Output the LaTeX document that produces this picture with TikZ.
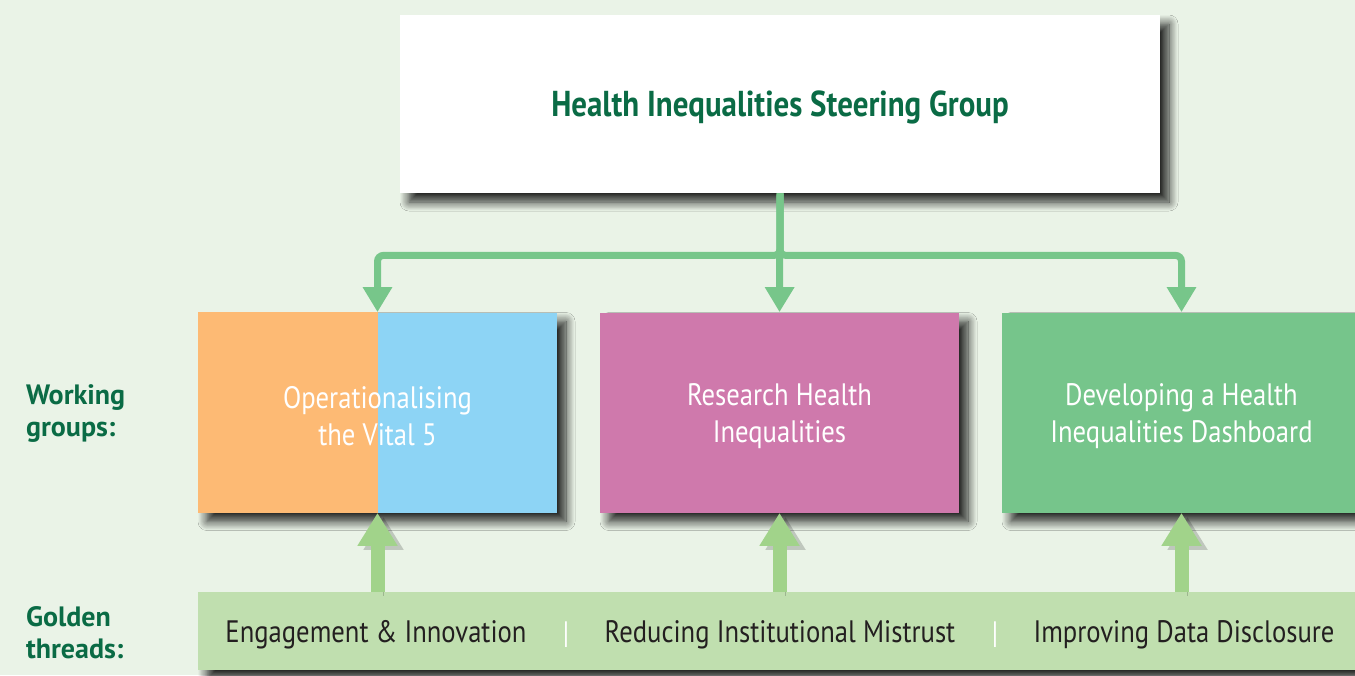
\documentclass[tikz,border=0pt]{standalone}
\usepackage{fontspec}
\setmainfont{PT Sans}[FakeStretch=0.86]
\newfontfamily\labelfont{PT Sans}
\usetikzlibrary{arrows.meta,shadows.blur}

\definecolor{paper}{HTML}{EAF3E7}
\definecolor{nhsgreen}{HTML}{0A6B45}
\definecolor{flowgreen}{HTML}{77C68A}
\definecolor{liftgreen}{HTML}{A1D38A}
\definecolor{threadgreen}{HTML}{C0DFAF}
\definecolor{vitalorange}{HTML}{FDBA74}
\definecolor{vitalblue}{HTML}{8DD4F5}
\definecolor{researchpink}{HTML}{CF79AC}
\definecolor{dashgreen}{HTML}{76C58B}
\definecolor{ink}{HTML}{231F20}

\tikzset{
  shade box/.style={blur shadow={shadow xshift=4.5pt,shadow yshift=-4.5pt,
      shadow blur steps=12,shadow blur radius=4.5pt,shadow opacity=85}},
  grouptext/.style={minimum width=179.5pt,minimum height=100pt,
      inner sep=0pt,text=white,align=center,
      font=\fontsize{15.5}{18.5}\selectfont},
  groupbox/.style={grouptext,shade box},
  sidelabel/.style={anchor=west,align=left,text=nhsgreen,
      font=\labelfont\fontsize{14}{16}\selectfont\bfseries},
  threadtext/.style={text=ink,font=\fontsize{15.5}{18}\selectfont},
  flow/.style={draw=flowgreen,line width=3.5pt,rounded corners=3pt,
      -{Triangle[width=14pt,length=12.5pt]}},
  lift/.style={draw=liftgreen,line width=7pt,
      -{Triangle[width=19pt,length=16.5pt]},
      preaction={draw=black,opacity=0.18,
        transform canvas={shift={(3pt,-2pt)}}}},
}

\begin{document}
\begin{tikzpicture}[x=0.5pt,y=-0.5pt]
  \fill[paper] (0,0) rectangle (1355,675);
  \useasboundingbox (0,0) rectangle (1355,675);
  \clip (0,0) rectangle (1355,675);

  % steering group
  \node[shade box,fill=white,minimum width=380pt,minimum height=89pt]
    (steer) at (780,104) {};
  \node[text=nhsgreen,font=\fontsize{18}{21}\selectfont\bfseries]
    (steerlabel) at ([yshift=-1.5pt]steer) {Health Inequalities Steering Group};

  % working groups
  \node[groupbox,fill=vitalblue] (ops) at (377.5,412.5) {};
  \fill[vitalorange] (ops.south west) rectangle (ops.north);
  \node[grouptext] (opslabel) at ([yshift=-2pt]ops) {Operationalising\\the Vital 5};
  \node[groupbox,fill=researchpink] (res) at (779.5,412.5) {};
  \node[grouptext] (reslabel) at ([yshift=-2pt]res) {Research Health\\Inequalities};
  \node[groupbox,fill=dashgreen] (dash) at (1181.5,412.5) {};
  \node[grouptext] (dashlabel) at ([yshift=-2pt]dash)
    {Developing a Health\\Inequalities Dashboard};

  % golden threads
  \node[shade box,fill=threadgreen,minimum width=590pt,minimum height=39pt,
        inner sep=0pt] (threads) at (788,631) {};
  \node[threadtext] (engage) at (376,635) {Engagement \& Innovation};
  \node[threadtext] (mistrust) at (780,635) {Reducing Institutional Mistrust};
  \node[threadtext] (disclose) at (1184,635) {Improving Data Disclosure};
  \node[threadtext,text=white] (bar1) at (566,635) {|};
  \node[threadtext,text=white] (bar2) at (995,635) {|};

  \node[sidelabel] (wg) at (19,414) {Working\\groups:};
  \node[sidelabel] (gt) at (19,633) {Golden\\threads:};

  % connectors
  \draw[flow] (steer.south) -- ++(0,62) -| (ops.north);
  \draw[flow] (steer.south) -- ++(0,62) -| (dash.north);
  \draw[flow] (steer.south) -- (res.north);

  \draw[lift] (ops.south |- threads.north) -- (ops.south);
  \draw[lift] (res.south |- threads.north) -- (res.south);
  \draw[lift] (dash.south |- threads.north) -- (dash.south);
\end{tikzpicture}
\end{document}
